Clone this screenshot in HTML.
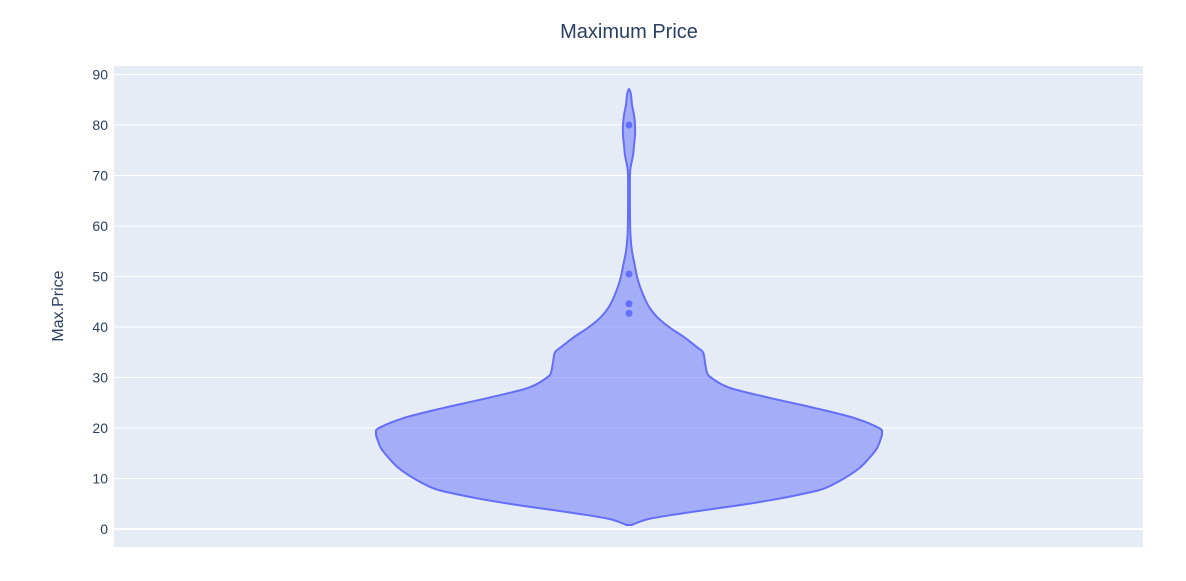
<!DOCTYPE html>
<html><head><meta charset="utf-8"><style>
body{margin:0;background:#fff;}
svg{display:block;font-family:"Liberation Sans",sans-serif;}
</style></head><body>
<svg width="1186" height="581">
<text x="629" y="38" text-anchor="middle" font-size="20" fill="#2a3f5f">Maximum Price</text>
<rect x="114" y="66" width="1029" height="481" fill="#e5ecf6"/>
<g id="grid"></g>
<g id="ticks"></g>
<text transform="translate(63,306) rotate(-90)" text-anchor="middle" font-size="16" fill="#2a3f5f">Max.Price</text>
<g id="violin"></g>
</svg>
<script>
const yTicks=[0,10,20,30,40,50,60,70,80,90];
const profileY=[0.8,1,2,3,4,5,6,7,8,10,12,14,16,18,19,20,22,24,26,28,30,31,33,35,36,38,40,42,44,46,48,50,52,55,58,62,70,72,74,76,78,80,82,84,86,87];
const profileW=[3,5,20,50,85,120,150,175,195,215,230,240,248,252,253,250,225,185,140,100,82,78,76,74,68,55,40,28,20,15,11,8,6,3,1.5,1,1,2,4,5,6,6,5,3,2,0.5];
const outliers=[80,50.5,44.6,42.7];
const cx=629;
const ys=v=>529-v*5.05;
const NS='http://www.w3.org/2000/svg';
const grid=document.getElementById('grid'),ticks=document.getElementById('ticks'),vg=document.getElementById('violin');
yTicks.forEach(t=>{
 const l=document.createElementNS(NS,'line');
 l.setAttribute('x1',114);l.setAttribute('x2',1143);l.setAttribute('y1',ys(t));l.setAttribute('y2',ys(t));
 l.setAttribute('stroke','#fff');l.setAttribute('stroke-width',t===0?2:1);
 
 
 grid.appendChild(l);
 const tx=document.createElementNS(NS,'text');
 tx.setAttribute('x',108);tx.setAttribute('y',ys(t)+5);tx.setAttribute('text-anchor','end');
 tx.setAttribute('font-size','14');tx.setAttribute('fill','#2a3f5f');tx.textContent=t;
 
 
 ticks.appendChild(tx);
});
let pts=profileY.map((y,i)=>[cx+profileW[i],ys(y)]);
let left=profileY.map((y,i)=>[cx-profileW[i],ys(y)]).reverse();
let all=pts.concat(left);
// smooth path via catmull-rom
function path(p){let d='M'+p[0][0]+','+p[0][1];for(let i=0;i<p.length-1;i++){const p0=p[i-1]||p[i],p1=p[i],p2=p[i+1],p3=p[i+2]||p2;
d+=` C${p1[0]+(p2[0]-p0[0])/6},${p1[1]+(p2[1]-p0[1])/6} ${p2[0]-(p3[0]-p1[0])/6},${p2[1]-(p3[1]-p1[1])/6} ${p2[0]},${p2[1]}`;}return d+'Z';}
const pa=document.createElementNS(NS,'path');
pa.setAttribute('d',path(all));pa.setAttribute('fill','rgba(99,110,250,0.5)');pa.setAttribute('stroke','#636efa');pa.setAttribute('stroke-width',2);


vg.appendChild(pa);
outliers.forEach(o=>{const c=document.createElementNS(NS,'circle');
c.setAttribute('cx',cx);c.setAttribute('cy',ys(o));c.setAttribute('r',3.5);c.setAttribute('fill','#636efa');


vg.appendChild(c);});
</script>
</body></html>
